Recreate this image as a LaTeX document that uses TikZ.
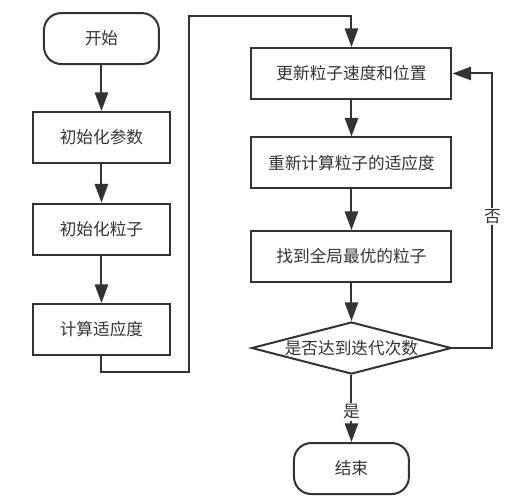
\documentclass[tikz,border=0pt]{standalone}
\usepackage{fontspec}
\setmainfont{Noto Sans CJK SC}
\usetikzlibrary{shapes, shapes.geometric, positioning, arrows.meta}
\definecolor{linegray}{HTML}{333333}

\begin{document}
\begin{tikzpicture}[
  terminal/.style={rectangle, rounded corners=13pt, draw=linegray, line width=1.5pt, inner sep=0pt, minimum width=86.25pt, minimum height=38.25pt},
  procbox/.style={rectangle, draw=linegray, line width=1.5pt, inner sep=0pt, minimum width=102.75pt, minimum height=38.25pt},
  widebox/.style={rectangle, draw=linegray, line width=1.5pt, inner sep=0pt, minimum width=150pt, minimum height=38.25pt},
  decision/.style={diamond, aspect=3.85, draw=linegray, line width=1.5pt, inner sep=0pt, minimum width=150pt, minimum height=39pt},
  arr/.style={-{Triangle[length=14pt,width=10pt]}, draw=linegray, line width=1.5pt},
  every node/.style={text=linegray, font=\fontsize{12.5pt}{15pt}\selectfont}]
\useasboundingbox (0,0) rectangle (381pt,-377.25pt);

% left column
\node[terminal] (start) at (76.1pt,-28.9pt) {开始};
\node[procbox, below=34.5pt of start] (initpar) {初始化参数};
\node[procbox, below=28.9pt of initpar] (initpart) {初始化粒子};
\node[procbox, below=35.6pt of initpart] (fitness) {计算适应度};

% right column
\node[widebox] (update) at (263.6pt,-55.1pt) {更新粒子速度和位置};
\node[widebox, below=27.4pt of update] (refit) {重新计算粒子的适应度};
\node[widebox, below=30.4pt of refit] (best) {找到全局最优的粒子};
\node[decision, below=28.5pt of best] (check) {\makebox[0pt]{是否达到迭代次数}};
\node[terminal, below=50.25pt of check] (stop) {结束};

\coordinate (loopB) at (141.75pt,-279pt);
\coordinate (loopA) at (141.75pt,-12pt);

\draw[arr] (start) -- (initpar);
\draw[arr] (initpar) -- (initpart);
\draw[arr] (initpart) -- (fitness);
\draw[arr] (fitness.south) |- (loopB) -- (loopA) -| (update.north);

\draw[arr] (update) -- (refit);
\draw[arr] (refit) -- (best);
\draw[arr] (best) -- (check);
\draw[arr] (check) -- node[pos=0.55, fill=white, inner sep=1pt] {是} (stop);
\draw[arr] (check.east) -- ++(30pt,0) |- node[pos=0.24, fill=white, inner sep=1pt] {否} (update.east);

\end{tikzpicture}
\end{document}
